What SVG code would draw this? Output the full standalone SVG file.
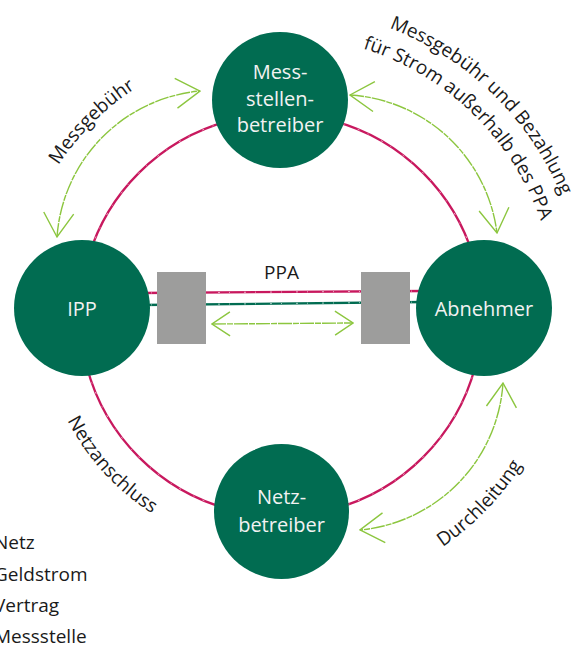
<svg xmlns="http://www.w3.org/2000/svg" width="572" height="646" viewBox="0 0 572 646">
<style>
.node{fill:#016c51}
.ntext{font-family:"Open Sans","Noto Sans",sans-serif;font-size:20px;fill:#f2f2f2;text-anchor:middle}
.lbl{font-family:"Open Sans","Noto Sans",sans-serif;font-size:19px;fill:#1a1a1a}
.ring{fill:none;stroke:#c8185e;stroke-width:2.3;stroke-linecap:round}
.chalk{fill:none;stroke:#ffffff;stroke-width:0.9;stroke-dasharray:2 9 1 14;opacity:0.7}
.flow{fill:none;stroke:#8cc63f;stroke-width:1.4;stroke-dasharray:14 1 6 1}
.box{fill:#9d9d9c}
</style>
<defs>
<marker id="arrL" viewBox="0 0 26 32" refX="25" refY="16" markerWidth="26" markerHeight="32" markerUnits="userSpaceOnUse" orient="auto-start-reverse">
<path d="M1,1 L25,16 L1,31" fill="none" stroke="#8cc63f" stroke-width="1.4"/>
</marker>
<marker id="arrS" viewBox="0 0 20 26" refX="19" refY="13" markerWidth="20" markerHeight="26" markerUnits="userSpaceOnUse" orient="auto-start-reverse">
<path d="M1,1 L19,13 L1,25" fill="none" stroke="#8cc63f" stroke-width="1.4"/>
</marker>
<path id="pMessL" d="M19.04,264.81 A266,266 0 0,1 234.81,49.04"/>
<path id="pTR1" d="M281,8 A303,303 0 0,1 584,311"/>
<path id="pTR2" d="M281,36 A275,275 0 0,1 556,311"/>
<path id="pNetz" d="M41,311 A240,240 0 0,0 281,551"/>
<path id="pDurch" d="M281,597 A286,286 0 0,0 567,311"/>
</defs>
<rect width="572" height="646" fill="#ffffff"/>
<g id="connectors">
<path class="ring" d="M86.85,262.98 A201,201 0 0,1 228.98,120.85"/>
<path class="ring" d="M333.02,120.85 A201,201 0 0,1 475.15,262.98"/>
<path class="ring" d="M475.15,367.02 A201,201 0 0,1 333.02,509.15"/>
<path class="ring" d="M228.98,509.15 A201,201 0 0,1 86.85,367.02"/>
<path class="chalk" d="M86.85,262.98 A201,201 0 0,1 228.98,120.85"/>
<path class="chalk" d="M333.02,120.85 A201,201 0 0,1 475.15,262.98"/>
<path class="chalk" d="M475.15,367.02 A201,201 0 0,1 333.02,509.15"/>
<path class="chalk" d="M228.98,509.15 A201,201 0 0,1 86.85,367.02"/>
<path d="M140,293 L425,291" fill="none" stroke="#c8185e" stroke-width="2.3"/>
<path d="M140,305 L425,302" fill="none" stroke="#016c51" stroke-width="2.3"/>
<path class="chalk" d="M140,293 L425,291"/>
<path class="chalk" d="M140,305 L425,302"/>
<path class="flow" d="M57,237 A158,158 0 0,1 200,91" marker-start="url(#arrL)" marker-end="url(#arrL)"/>
<path class="flow" d="M350,95 A158,158 0 0,1 497,233" marker-start="url(#arrL)" marker-end="url(#arrL)"/>
<path class="flow" d="M503,383 A158,158 0 0,1 360,530" marker-start="url(#arrL)" marker-end="url(#arrL)"/>
<path class="flow" d="M212,324 L353,323" marker-start="url(#arrS)" marker-end="url(#arrS)"/>
</g>
<g id="ppa-box-left"><rect class="box" x="157" y="272" width="49" height="72"/></g>
<g id="ppa-box-right"><rect class="box" x="361" y="272" width="49" height="72"/></g>
<g id="messstellenbetreiber">
<circle class="node" cx="280" cy="100" r="68"/>
<text class="ntext" x="280" y="79">Mess-</text>
<text class="ntext" x="280" y="106">stellen-</text>
<text class="ntext" x="280" y="132">betreiber</text>
</g>
<g id="ipp">
<circle class="node" cx="82" cy="308" r="68"/>
<text class="ntext" x="82" y="316">IPP</text>
</g>
<g id="abnehmer">
<circle class="node" cx="484" cy="308" r="68"/>
<text class="ntext" x="484" y="316">Abnehmer</text>
</g>
<g id="netzbetreiber">
<circle class="node" cx="281.5" cy="511.5" r="67.5"/>
<text class="ntext" x="281.5" y="504">Netz-</text>
<text class="ntext" x="281.5" y="532">betreiber</text>
</g>
<g id="labels">
<text class="lbl" x="281.5" y="279" text-anchor="middle">PPA</text>
<text class="lbl"><textPath href="#pMessL" startOffset="50%" text-anchor="middle">Messgebühr</textPath></text>
<text class="lbl"><textPath href="#pTR1" startOffset="49.2%" text-anchor="middle">Messgebühr und Bezahlung</textPath></text>
<text class="lbl"><textPath href="#pTR2" startOffset="49%" text-anchor="middle">für Strom außerhalb des PPA</textPath></text>
<text class="lbl"><textPath href="#pNetz" startOffset="47%" text-anchor="middle">Netzanschluss</textPath></text>
<text class="lbl"><textPath href="#pDurch" startOffset="51%" text-anchor="middle">Durchleitung</textPath></text>
</g>
<g id="legend">
<text class="lbl" x="-6" y="549">Netz</text>
<text class="lbl" x="-6" y="581">Geldstrom</text>
<text class="lbl" x="-6" y="612">Vertrag</text>
<text class="lbl" x="-6" y="643">Messstelle</text>
</g>
</svg>
